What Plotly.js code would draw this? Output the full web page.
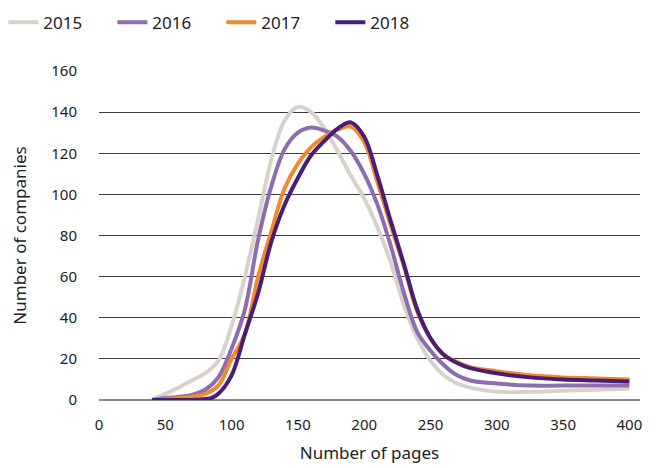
<!DOCTYPE html>
<html>
<head>
<meta charset="utf-8">
<script src="https://cdn.plot.ly/plotly-3.0.1.min.js"></script>
<style>html,body{margin:0;padding:0;background:#fff;}#chart{width:665px;height:468px;}</style>
</head>
<body>
<div id="chart"></div>
<script>
const seriesNames = ["2015", "2016", "2017", "2018"];
const seriesColors = ["#d8d2ca", "#8d6db0", "#f08a2a", "#4a1d78"];

const pages2015 = [40, 50, 60, 70, 80, 90, 100, 110, 120, 130, 140, 150, 160, 170, 180, 190, 200, 210, 220, 230, 240, 250, 260, 270, 280, 300, 325, 350, 375, 400];
const companies2015 = [0, 3, 6, 9.5, 13, 19, 36, 60, 88, 117, 136, 142.5, 140, 132, 121, 109, 98, 84, 67, 46, 30, 19, 12, 8, 6, 4, 4, 4.5, 5, 5.5];

const pages2016 = [40, 50, 60, 70, 80, 90, 100, 110, 120, 130, 140, 150, 160, 170, 180, 190, 200, 210, 220, 230, 240, 250, 260, 270, 280, 300, 325, 350, 375, 400];
const companies2016 = [0, 1, 1.5, 2.5, 5, 11, 25, 44, 78, 104, 122, 130, 132.5, 131, 128, 121, 110, 95, 75, 52, 33, 24, 17, 12, 9.5, 8, 7, 7, 7, 7];

const pages2017 = [40, 50, 60, 70, 80, 90, 100, 110, 120, 130, 140, 150, 160, 170, 180, 190, 200, 210, 220, 230, 240, 250, 260, 270, 280, 300, 325, 350, 375, 400];
const companies2017 = [0, 0.5, 1, 1.5, 3, 7, 20, 32, 60, 82, 103, 115, 123, 128, 131.5, 133, 125.5, 106, 85, 65, 43, 30, 22, 18.5, 16, 14, 12, 11, 10.5, 10];

const pages2018 = [40, 50, 60, 70, 80, 85, 90, 100, 110, 120, 130, 140, 150, 160, 170, 180, 190, 200, 210, 220, 230, 240, 250, 260, 270, 280, 300, 325, 350, 375, 400];
const companies2018 = [0, 0, 0, 0, 0.5, 1, 3, 12, 32, 52, 77, 95, 108, 119, 126, 132, 135, 128, 109, 87, 66, 44, 30, 22, 18, 15.5, 13, 11, 10, 9.5, 9];

const xTicks = [0, 50, 100, 150, 200, 250, 300, 350, 400];
const yTicks = [0, 20, 40, 60, 80, 100, 120, 140, 160];

const xs = [pages2015, pages2016, pages2017, pages2018];
const ys = [companies2015, companies2016, companies2017, companies2018];

const traces = seriesNames.map((name, i) => ({
  type: "scatter",
  mode: "lines",
  name: name,
  x: xs[i],
  y: ys[i],
  line: {color: seriesColors[i], width: 4, shape: "spline", smoothing: 1},
  hoverinfo: "skip"
}));

const fontFam = "'Noto Sans', 'Open Sans', sans-serif";

const layout = {
  width: 665,
  height: 468,
  paper_bgcolor: "#ffffff",
  plot_bgcolor: "#ffffff",
  margin: {l: 99, r: 25, t: 71, b: 68},
  font: {family: fontFam, size: 15, color: "#222222"},
  showlegend: true,
  legend: {
    orientation: "h",
    xref: "container", yref: "container",
    x: 0.005, y: 0.99,
    xanchor: "left", yanchor: "top",
    font: {family: fontFam, size: 17, color: "#222222"},
    entrywidth: 64,
    entrywidthmode: "pixels",
    traceorder: "normal",
    itemclick: false
  },
  xaxis: {
    range: [0, 408],
    tickvals: xTicks,
    ticktext: xTicks.map(String),
    showgrid: false,
    zeroline: false,
    showline: false,
    ticks: "outside",
    ticklen: 11,
    tickcolor: "rgba(0,0,0,0)",
    tickfont: {family: fontFam, size: 15, color: "#222222"},
    title: {text: "Number of pages", font: {family: fontFam, size: 17, color: "#222222"}, standoff: 14}
  },
  yaxis: {
    range: [0, 160],
    tickvals: yTicks,
    ticktext: yTicks.map(String),
    showgrid: true,
    gridcolor: "#3c3c3c",
    gridwidth: 1,
    zeroline: true,
    zerolinecolor: "#8a8a8a",
    zerolinewidth: 1.5,
    showline: false,
    ticks: "outside",
    ticklen: 18,
    tickcolor: "rgba(0,0,0,0)",
    tickfont: {family: fontFam, size: 15, color: "#222222"},
    title: {text: "Number of companies", font: {family: fontFam, size: 17, color: "#222222"}, standoff: 20}
  }
};

Plotly.newPlot("chart", traces, layout, {displayModeBar: false, staticPlot: true});
</script>
</body>
</html>
